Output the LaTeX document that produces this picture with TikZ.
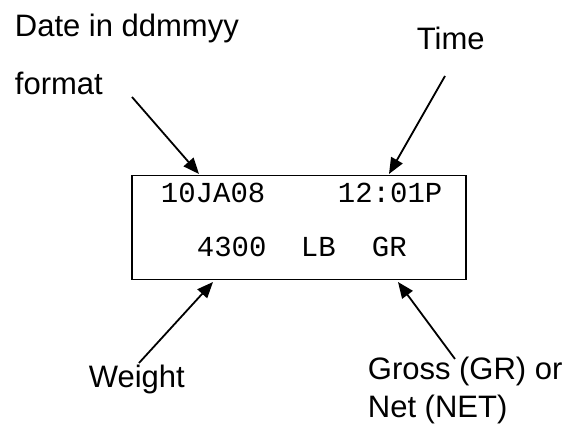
\documentclass[tikz,border=0pt]{standalone}
\usepackage{fontspec}
\setmainfont{Liberation Sans}
\setmonofont{Liberation Mono}
\usetikzlibrary{arrows.meta}

\tikzset{
  callout/.style={font=\fontsize{31}{38}\selectfont,inner sep=0pt,align=left,anchor=base west},
  readout/.style={font=\ttfamily\fontsize{29}{32}\selectfont,inner sep=0pt,anchor=base west},
}

\begin{document}
\begin{tikzpicture}[x=1pt,y=-1pt,>={Triangle[length=16pt,width=13pt]},line width=1.8pt]
            \useasboundingbox (0,0) rectangle (582,427);
            % display window
            \node[draw,line width=1.5pt,minimum width=334pt,minimum height=104pt,inner sep=0pt] (display) at (299,227.5) {};
            \node[readout] (date) at (160,203) {10JA08};
            \node[readout] (clock) at (337,203) {12:01P};
            \node[readout] (weight) at (196,257) {4300};
            \node[readout] (unit) at (300,257) {LB};
            \node[readout] (mode) at (371,257) {GR};
            % labels (base = last line)
            \node[callout] (datelabel) at (14,95) {Date in ddmmyy\\[20pt]format};
            \node[callout] (timelabel) at (416,50) {Time};
            \node[callout] (weightlabel) at (88,388) {Weight};
            \node[callout] (modelabel) at (367,418) {Gross (GR) or\\Net (NET)};
            % arrows
            \coordinate (datetail) at (132,97);
            \coordinate (datetip) at (199,174);
            \coordinate (timetail) at (445,76);
            \coordinate (timetip) at (389,174);
            \coordinate (weighttail) at (139,363);
            \coordinate (weighttip) at (213,282);
            \coordinate (modetail) at (455,359);
            \coordinate (modetip) at (398,282);
            \draw[->] (datetail) -- (datetip);
            \draw[->] (timetail) -- (timetip);
            \draw[->] (weighttail) -- (weighttip);
            \draw[->] (modetail) -- (modetip);
        \end{tikzpicture}
\end{document}
